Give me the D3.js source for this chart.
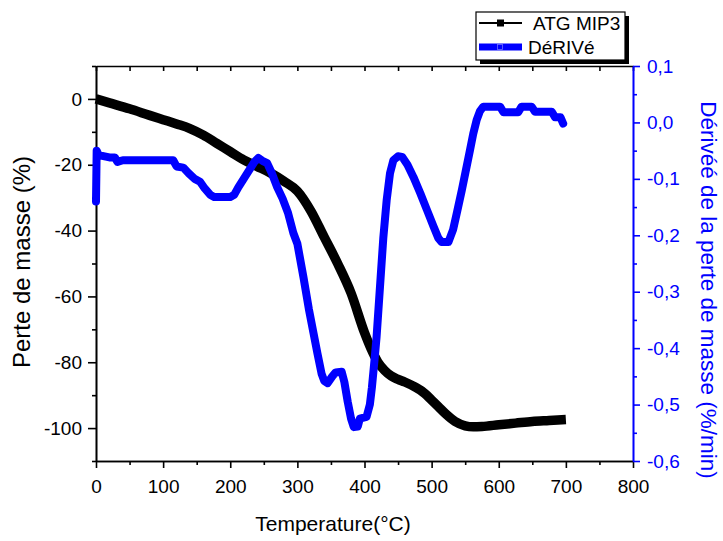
<!DOCTYPE html>
<html>
<head>
<meta charset="utf-8">
<script src="https://cdn.jsdelivr.net/npm/d3@7"></script>
<style>
  body { margin: 0; background: #fff; }
  svg { display: block; }
  text { font-family: "Liberation Sans", Arial, sans-serif; }
</style>
</head>
<body>
<svg id="chart" width="723" height="541"></svg>
<script>
// ---- Data ----
const atgTemp = [0, 20, 50, 80, 100, 120, 140, 160, 180, 200, 220, 240, 260, 280, 300, 320, 340, 360, 380, 400, 410, 420, 430, 440, 450, 460, 475, 490, 500, 510, 520, 535, 550, 562, 575, 600, 625, 650, 675, 700];
const atgMass = [0, -1.2, -3, -5, -6.3, -7.6, -9, -11, -13.5, -16, -18.5, -20.5, -22.5, -25, -28, -34, -42, -50, -59, -71, -76, -80, -82.5, -84.2, -85.2, -86, -87.5, -89.5, -91.5, -93.5, -95.5, -98, -99.3, -99.6, -99.5, -99, -98.5, -98, -97.7, -97.4];

const dtgTemp = [0, 1, 4, 20, 28, 32, 40, 60, 100, 115, 120, 130, 138, 147, 155, 162, 170, 176, 200, 206, 212, 220, 228, 236, 242, 248, 255, 262, 270, 278, 286, 294, 300, 309, 317, 324, 330, 336, 340, 345, 352, 357, 366, 370, 375, 380, 384, 390, 393, 403, 408, 411, 415, 418, 420, 424, 428, 433, 438, 443, 450, 456, 464, 473, 483, 493, 503, 510, 515, 525, 532, 538, 545, 551, 557, 562, 567, 572, 577, 602, 607, 629, 634, 649, 654, 679, 684, 692, 696];
const dtgValue = [-0.14, -0.05, -0.058, -0.062, -0.062, -0.07, -0.067, -0.067, -0.067, -0.067, -0.078, -0.08, -0.09, -0.1, -0.105, -0.117, -0.128, -0.132, -0.132, -0.128, -0.115, -0.1, -0.085, -0.07, -0.063, -0.068, -0.072, -0.09, -0.115, -0.135, -0.16, -0.196, -0.215, -0.274, -0.33, -0.373, -0.41, -0.445, -0.458, -0.462, -0.45, -0.443, -0.442, -0.46, -0.495, -0.525, -0.54, -0.539, -0.525, -0.522, -0.5, -0.47, -0.42, -0.38, -0.345, -0.275, -0.205, -0.138, -0.09, -0.067, -0.06, -0.061, -0.075, -0.097, -0.125, -0.155, -0.185, -0.205, -0.212, -0.212, -0.19, -0.158, -0.12, -0.085, -0.05, -0.02, 0.004, 0.02, 0.028, 0.028, 0.018, 0.018, 0.028, 0.028, 0.019, 0.019, 0.009, 0.009, -0.002];

const xTicks = [0, 100, 200, 300, 400, 500, 600, 700, 800];
const xMinorTicks = [50, 150, 250, 350, 450, 550, 650, 750];
const xAllTicks = [0, 50, 100, 150, 200, 250, 300, 350, 400, 450, 500, 550, 600, 650, 700, 750, 800];
const leftTicks = [-100, -80, -60, -40, -20, 0];
const leftMinorTicks = [-110, -90, -70, -50, -30, -10, 10];
const rightTicks = [-0.6, -0.5, -0.4, -0.3, -0.2, -0.1, 0.0, 0.1];
const rightMinorTicks = [-0.55, -0.45, -0.35, -0.25, -0.15, -0.05, 0.05];

const seriesNames = ["ATG MIP3", "DéRIVé"];
const xTitle = "Temperature(°C)";
const leftTitle = "Perte de masse (%)";
const rightTitle = "Dérivéé de la perte de masse (%/min)";

// ---- Chart ----
const BLUE = "#0000ff";
const svg = d3.select("#chart");
const x = d3.scaleLinear().domain([0, 800]).range([96, 633]);
const yL = d3.scaleLinear().domain([-110, 10]).range([461, 66]);
const yR = d3.scaleLinear().domain([-0.6, 0.1]).range([461, 66]);

function styleAxis(g, color, fs) {
  g.select(".domain").attr("stroke", color).attr("stroke-width", 1.6);
  g.selectAll(".tick line").attr("stroke", color).attr("stroke-width", 1.6);
  g.selectAll(".tick text").attr("fill", color).style("font-size", fs + "px");
}

// top axis (ticks inward, no labels)
const gTop = svg.append("g").attr("transform", "translate(0,66)")
  .call(d3.axisTop(x).tickValues(xAllTicks).tickSize(-5).tickSizeOuter(0).tickFormat(""));
styleAxis(gTop, "#000", 19);

// bottom axis
const gBotMinor = svg.append("g").attr("transform", "translate(0,461)")
  .call(d3.axisBottom(x).tickValues(xMinorTicks).tickSize(4).tickSizeOuter(0).tickFormat(""));
styleAxis(gBotMinor, "#000", 19);
const gBot = svg.append("g").attr("transform", "translate(0,461)")
  .call(d3.axisBottom(x).tickValues(xTicks).tickSize(7).tickPadding(12).tickSizeOuter(0).tickFormat(d => String(d)));
styleAxis(gBot, "#000", 19);

// left axis
const gLeftMinor = svg.append("g").attr("transform", "translate(96,0)")
  .call(d3.axisLeft(yL).tickValues(leftMinorTicks).tickSize(4).tickSizeOuter(0).tickFormat(""));
styleAxis(gLeftMinor, "#000", 19);
const gLeft = svg.append("g").attr("transform", "translate(96,0)")
  .call(d3.axisLeft(yL).tickValues(leftTicks).tickSize(8).tickPadding(6).tickSizeOuter(0).tickFormat(d => String(d)));
styleAxis(gLeft, "#000", 19);

// data lines
const atgData = atgTemp.map((t, i) => ({ t, v: atgMass[i] }));
const dtgData = dtgTemp.map((t, i) => ({ t, v: dtgValue[i] }));

svg.append("path").datum(atgData)
  .attr("fill", "none").attr("stroke", "#000").attr("stroke-width", 9.5)
  .attr("stroke-linejoin", "round").attr("stroke-linecap", "butt")
  .attr("d", d3.line().x(d => x(d.t)).y(d => yL(d.v)).curve(d3.curveMonotoneX));

svg.append("path").datum(dtgData)
  .attr("fill", "none").attr("stroke", BLUE).attr("stroke-width", 8)
  .attr("stroke-linejoin", "round").attr("stroke-linecap", "round")
  .attr("d", d3.line().x(d => x(d.t)).y(d => yR(d.v)));

// right axis (blue)
const gRightMinor = svg.append("g").attr("transform", "translate(633,0)")
  .call(d3.axisRight(yR).tickValues(rightMinorTicks).tickSize(4).tickSizeOuter(0).tickFormat(""));
styleAxis(gRightMinor, BLUE, 19);
const gRight = svg.append("g").attr("transform", "translate(633,0)")
  .call(d3.axisRight(yR).tickValues(rightTicks).tickSize(7).tickPadding(7).tickSizeOuter(0)
    .tickFormat(d => d.toFixed(1).replace(".", ",")));
styleAxis(gRight, BLUE, 19);

// axis titles
svg.append("text").attr("x", 333).attr("y", 531).attr("text-anchor", "middle")
  .style("font-size", "21px").attr("fill", "#000").text(xTitle);
svg.append("text").attr("transform", "translate(30,262) rotate(-90)").attr("text-anchor", "middle")
  .style("font-size", "24px").attr("fill", "#000").text(leftTitle);
svg.append("text").attr("transform", "translate(701,290) rotate(90)").attr("text-anchor", "middle")
  .style("font-size", "22.5px").attr("fill", BLUE).text(rightTitle);

// legend
const lg = svg.append("g");
lg.append("rect").attr("x", 480).attr("y", 16).attr("width", 149).attr("height", 48).attr("fill", "#000");
lg.append("rect").attr("x", 476).attr("y", 12).attr("width", 149).attr("height", 48)
  .attr("fill", "#fff").attr("stroke", "#000").attr("stroke-width", 1.2);
lg.append("line").attr("x1", 479).attr("x2", 522).attr("y1", 23).attr("y2", 23)
  .attr("stroke", "#000").attr("stroke-width", 1.8);
lg.append("rect").attr("x", 497).attr("y", 19.5).attr("width", 7).attr("height", 7).attr("fill", "#000");
lg.append("text").attr("x", 533).attr("y", 30).style("font-size", "19px").attr("fill", "#000").text(seriesNames[0]);
lg.append("line").attr("x1", 479).attr("x2", 522).attr("y1", 47).attr("y2", 47)
  .attr("stroke", BLUE).attr("stroke-width", 7);
lg.append("rect").attr("x", 497.5).attr("y", 44.5).attr("width", 5).attr("height", 5)
  .attr("fill", BLUE).attr("stroke", "#6f6fff").attr("stroke-width", 0.8);
lg.append("text").attr("x", 528).attr("y", 54).style("font-size", "19px").attr("fill", "#000").text(seriesNames[1]);
</script>
</body>
</html>
